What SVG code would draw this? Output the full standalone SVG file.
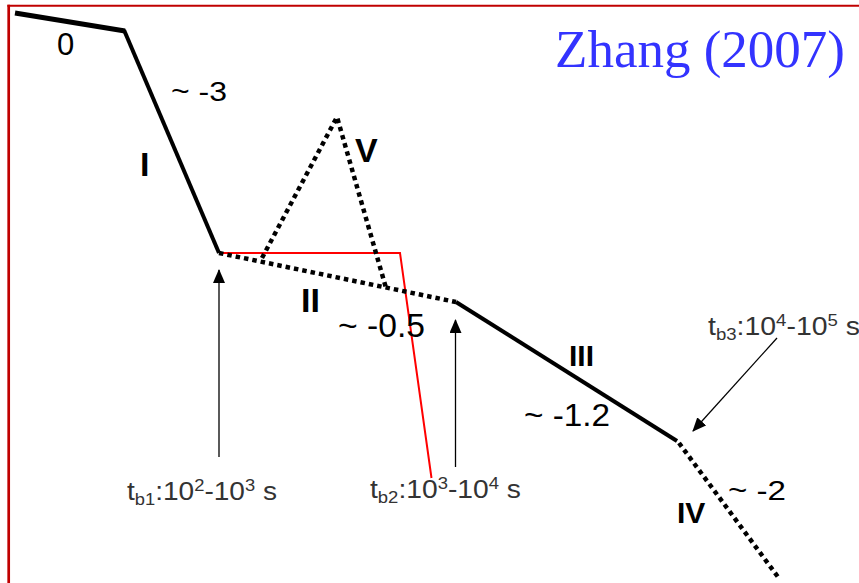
<svg xmlns="http://www.w3.org/2000/svg" width="859" height="583" viewBox="0 0 859 583">
<defs>
<style>
.lbl{font-family:"Liberation Sans",Arial,sans-serif;fill:#000}
.b{font-weight:bold}
.tb{font-family:"Liberation Sans",Arial,sans-serif;fill:#333;font-size:26px}
.solid{fill:none;stroke:#000;stroke-linejoin:miter}
.dot{fill:none;stroke:#000;stroke-width:4.5;stroke-dasharray:4.5 4}
.arr{stroke:#000;stroke-width:1.3;fill:none}
</style>
<marker id="ah" viewBox="0 0 14 12" refX="13" refY="6" markerWidth="14" markerHeight="12" markerUnits="userSpaceOnUse" orient="auto">
<path d="M0,0 L14,6 L0,12 Z" fill="#000"/>
</marker>
</defs>
<rect width="859" height="583" fill="#fff"/>
<g id="frame">
<line x1="8.7" y1="4.8" x2="8.7" y2="583" stroke="#c00000" stroke-width="2.7"/>
<line x1="7.4" y1="5.8" x2="859" y2="5.8" stroke="#c00000" stroke-width="2"/>
</g>
<g id="connectors">
<polyline id="red-line" points="219,253 400,253 431.5,478" fill="none" stroke="#ff0000" stroke-width="2"/>
<line id="seg0" class="solid" x1="15" y1="13" x2="125" y2="31" stroke-width="5"/>
<line id="segI" class="solid" x1="124" y1="30" x2="219" y2="253" stroke-width="4"/>
<line id="segII" class="dot" x1="219" y1="253" x2="456" y2="302"/>
<polyline id="segV" class="dot" points="262,258 337,117 386,288"/>
<line id="segIII" class="solid" x1="456" y1="302" x2="677" y2="441" stroke-width="4"/>
<line id="segIV" class="dot" x1="679" y1="443" x2="778" y2="577"/>
<line id="arrow1" class="arr" x1="219" y1="457" x2="219" y2="270" marker-end="url(#ah)"/>
<line id="arrow2" class="arr" x1="455.5" y1="467" x2="455.5" y2="320" marker-end="url(#ah)"/>
<line id="arrow3" class="arr" x1="777" y1="338" x2="693" y2="431" marker-end="url(#ah)"/>
</g>
<g id="labels">
<text class="lbl" x="57" y="55" font-size="31">0</text>
<text class="lbl" x="171" y="101" font-size="27" textLength="56" lengthAdjust="spacingAndGlyphs">~ -3</text>
<text class="lbl b" x="140" y="176" font-size="34">I</text>
<text class="lbl b" x="355" y="162" font-size="34">V</text>
<text class="lbl b" x="301" y="312" font-size="34">II</text>
<text class="lbl" x="338" y="337" font-size="33" textLength="87" lengthAdjust="spacingAndGlyphs">~ -0.5</text>
<text class="lbl b" x="569" y="366" font-size="30">III</text>
<text class="lbl" x="524" y="426" font-size="32" textLength="86" lengthAdjust="spacingAndGlyphs">~ -1.2</text>
<text class="lbl b" x="677" y="523" font-size="30">IV</text>
<text class="lbl" x="728" y="500" font-size="27" textLength="58" lengthAdjust="spacingAndGlyphs">~ -2</text>
</g>
<g id="tb1">
<text class="tb" x="127" y="500" textLength="150" lengthAdjust="spacingAndGlyphs">t<tspan font-size="17" dy="5">b1</tspan><tspan dy="-5">:10</tspan><tspan font-size="17" dy="-9">2</tspan><tspan dy="9">-10</tspan><tspan font-size="17" dy="-9">3</tspan><tspan dy="9"> s</tspan></text>
</g>
<g id="tb2">
<text class="tb" x="370" y="498" textLength="151" lengthAdjust="spacingAndGlyphs">t<tspan font-size="17" dy="5">b2</tspan><tspan dy="-5">:10</tspan><tspan font-size="17" dy="-9">3</tspan><tspan dy="9">-10</tspan><tspan font-size="17" dy="-9">4</tspan><tspan dy="9"> s</tspan></text>
</g>
<g id="tb3">
<text class="tb" x="708" y="335" textLength="152" lengthAdjust="spacingAndGlyphs">t<tspan font-size="17" dy="5">b3</tspan><tspan dy="-5">:10</tspan><tspan font-size="17" dy="-9">4</tspan><tspan dy="9">-10</tspan><tspan font-size="17" dy="-9">5</tspan><tspan dy="9"> s</tspan></text>
</g>
<g id="title">
<text x="555" y="67" font-family="'Liberation Serif','Times New Roman',serif" font-size="53" fill="#3333ff" textLength="290" lengthAdjust="spacingAndGlyphs">Zhang (2007)</text>
</g>
</svg>
